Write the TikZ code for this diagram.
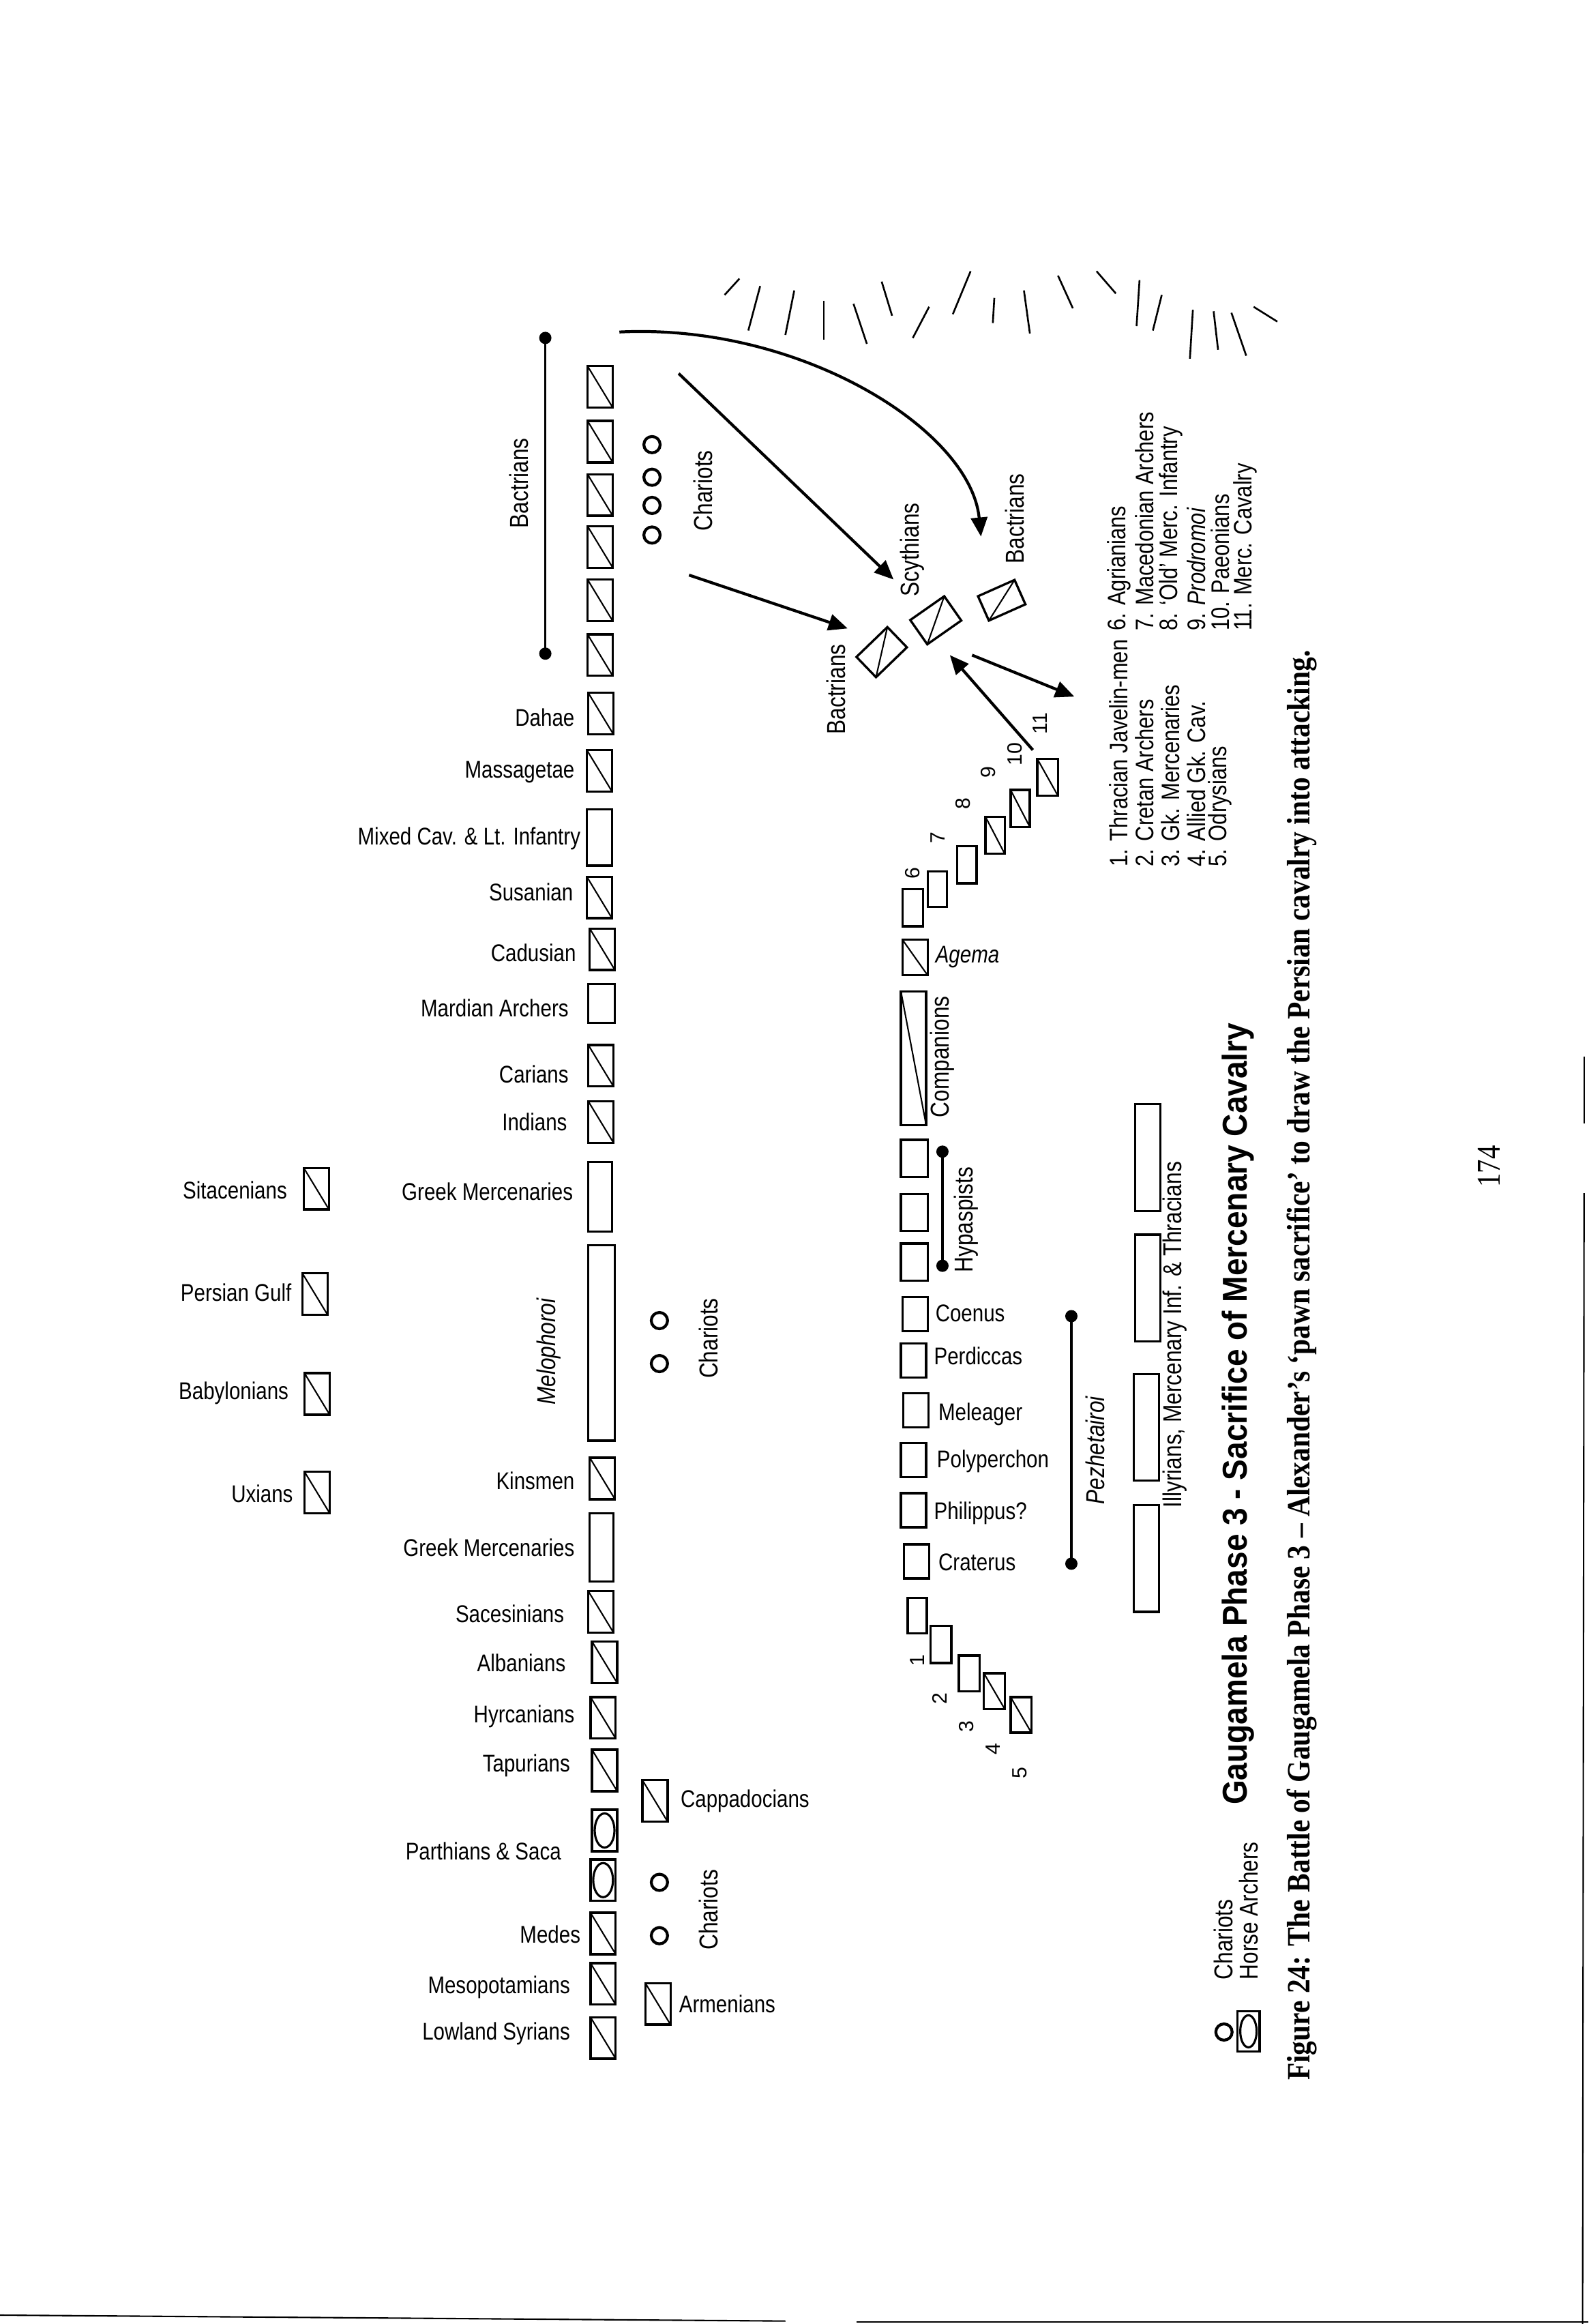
\documentclass[tikz,border=0pt]{standalone}
\usepackage{fontspec}
\setmainfont{Liberation Sans}
\newfontfamily\capfont{Liberation Serif}
\usepackage{graphicx}
\usetikzlibrary{arrows.meta}
\def\PXU{0.21735mm}
\newcommand\stt[1]{\scalebox{1}[1.2]{#1}}
\begin{document}
\begin{tikzpicture}[x=0.21735mm, y=-0.21735mm,
  unit/.style={draw, line width=0.95pt, inner sep=0pt, outer sep=0pt, minimum width=17*\PXU, minimum height=28*\PXU},
  diagl/.style={line width=0.6pt},
  lab/.style={font=\fontsize{8.4}{9}\selectfont, inner sep=0pt},
  rlab/.style={font=\fontsize{9}{10}\selectfont, rotate=90, inner sep=0pt},
  num/.style={font=\fontsize{8.6}{9}\selectfont, rotate=90, inner sep=0pt},
  leg/.style={font=\fontsize{8.8}{10}\selectfont, rotate=90, inner sep=0pt, anchor=west},
  chariot/.style={draw, circle, line width=1.2pt, minimum size=11*\PXU, inner sep=0pt},
  dot/.style={circle, fill, minimum size=1.8mm, inner sep=0pt},
  bracket/.style={line width=0.9pt},
  arr/.style={line width=1.2pt, -{Triangle[length=2.8mm,width=2.4mm]}},
  ray/.style={line width=0.75pt},
]
\fill[white] (0,0) rectangle (1072,1568);
\useasboundingbox (0,0) rectangle (1072,1568);

% ---------- sun rays ----------
\foreach \ax/\ay/\bx/\by in {489/199/499/188, 505/223/513/193, 530/226/536/196, 556/229/556/203,
  576/205/585/232, 595/190/602/213, 616/228/627/207, 643/212/655/183, 670/218/671/201,
  691/196/695/225, 714/186/724/208, 740/183/753/198, 767/220/769/189, 778/223/784/199,
  803/242/805/209, 819/210/822/236, 831/211/841/240, 846/207/862/217}
  \draw[ray] (\ax,\ay) -- (\bx,\by);

% ---------- Persian main line ----------
\node[dot] (bt) at (368,228) {};
\node[dot] (bb) at (368,441) {};
\draw[bracket] (bt.center) -- (bb.center);
\node[rlab] (lbact) at (350,326) {\stt{Bactrians}};

\foreach \n/\y in {b1/261, b2/298, b3/334, b4/369, b5/405, b6/442}
  \node[unit] (\n) at (405,\y) {};

\node[unit] (dahae) at (405.5,481.5) {};
\node[unit] (mass) at (404.5,520) {};
\node[unit, minimum height=38*\PXU] (mixed) at (404.5,565) {};
\node[unit] (susa) at (404.5,605.5) {};
\node[unit] (cadu) at (406.5,640.5) {};
\node[unit, minimum width=18*\PXU, minimum height=26*\PXU] (mard) at (406,677) {};
\node[unit] (cari) at (405.5,719) {};
\node[unit] (indi) at (405.5,757) {};
\node[unit, minimum width=16*\PXU, minimum height=47*\PXU] (gm1) at (405,807.5) {};
\node[unit, minimum width=18*\PXU, minimum height=132*\PXU] (melo) at (406,906) {};
\node[unit] (kins) at (406.5,997.5) {};
\node[unit, minimum width=16*\PXU, minimum height=46*\PXU] (gm2) at (406,1044) {};
\node[unit] (sace) at (405.5,1087.5) {};
\node[unit] (alba) at (408,1121.5) {};
\node[unit] (hyrc) at (407,1159) {};
\node[unit] (tapu) at (408,1194.5) {};
\node[unit] (parA) at (408,1235) {};
\node[unit] (parB) at (407,1268.5) {};
\node[unit] (mede) at (407,1304.5) {};
\node[unit] (meso) at (407,1338.5) {};
\node[unit] (lows) at (407,1375) {};
\node[unit] (capp) at (442,1215) {};
\node[unit] (arme) at (444,1352) {};
\node[unit] (sita) at (213.5,802) {};
\node[unit] (pgul) at (212.5,873) {};
\node[unit] (baby) at (214,940.5) {};
\node[unit] (uxia) at (214,1007) {};

\foreach \n in {b1,b2,b3,b4,b5,b6,dahae,mass,susa,cadu,cari,indi,kins,sace,alba,hyrc,tapu,mede,meso,lows,capp,arme,sita,pgul,baby,uxia}
  \draw[diagl] (\n.north west) -- (\n.south east);

\foreach \n in {parA,parB}
  \draw[line width=0.9pt] (\n.center) ellipse [x radius=1.45mm, y radius=2.5mm];

\node[lab, anchor=east] (tdahae) at (388,484) {\stt{Dahae}};
\node[lab, anchor=east] (tmass) at (388,521) {\stt{Massagetae}};
\node[lab, anchor=east] (tmixed) at (392,566) {\stt{Mixed Cav. \& Lt. Infantry}};
\node[lab, anchor=east] (tsusa) at (387,602) {\stt{Susanian}};
\node[lab, anchor=east] (tcadu) at (389,643) {\stt{Cadusian}};
\node[lab, anchor=east] (tmard) at (384,680) {\stt{Mardian Archers}};
\node[lab, anchor=east] (tcari) at (384,725) {\stt{Carians}};
\node[lab, anchor=east] (tindi) at (383,757) {\stt{Indians}};
\node[lab, anchor=east] (tgm1) at (387,804) {\stt{Greek Mercenaries}};
\node[rlab, font=\itshape\fontsize{9}{10}\selectfont] (tmelo) at (370.5,912) {\stt{Melophoroi}};
\node[lab, anchor=east] (tkins) at (388,999) {\stt{Kinsmen}};
\node[lab, anchor=east] (tgm2) at (388,1044) {\stt{Greek Mercenaries}};
\node[lab, anchor=east] (tsace) at (381,1089) {\stt{Sacesinians}};
\node[lab, anchor=east] (talba) at (382,1122) {\stt{Albanians}};
\node[lab, anchor=east] (thyrc) at (388,1158) {\stt{Hyrcanians}};
\node[lab, anchor=east] (ttapu) at (385,1191) {\stt{Tapurians}};
\node[lab, anchor=east] (tpar) at (379,1249) {\stt{Parthians \& Saca}};
\node[lab, anchor=east] (tmede) at (392,1305) {\stt{Medes}};
\node[lab, anchor=east] (tmeso) at (385,1341) {\stt{Mesopotamians}};
\node[lab, anchor=east] (tlows) at (385,1372) {\stt{Lowland Syrians}};
\node[lab, anchor=west] (tcapp) at (459,1215) {\stt{Cappadocians}};
\node[lab, anchor=west] (tarme) at (458,1352) {\stt{Armenians}};
\node[lab, anchor=east] (tsita) at (194,803) {\stt{Sitacenians}};
\node[lab, anchor=east] (tpgul) at (197,872) {\stt{Persian Gulf}};
\node[lab, anchor=east] (tbaby) at (195,940) {\stt{Babylonians}};
\node[lab, anchor=east] (tuxia) at (198,1008) {\stt{Uxians}};

% chariots
\foreach \n/\x/\y in {ch1/440/300, ch2/440/322, ch3/440/341, ch4/440/361, ch5/445/891, ch6/445/920, ch7/445/1270, ch8/445/1306}
  \node[chariot] (\n) at (\x,\y) {};
\node[rlab] (tch1) at (474.5,331) {\stt{Chariots}};
\node[rlab] (tch2) at (478,903) {\stt{Chariots}};
\node[rlab] (tch3) at (478,1288.5) {\stt{Chariots}};

% ---------- advanced Persian cavalry (diamonds) ----------
\node[unit, rotate=-46, minimum width=19*\PXU, minimum height=29*\PXU] (dl) at (595,440) {};
\node[unit, rotate=-55, minimum width=20*\PXU, minimum height=28*\PXU] (dm) at (631.5,418.5) {};
\node[unit, rotate=-66, minimum width=18*\PXU, minimum height=27*\PXU] (dr) at (676,405) {};
\foreach \n in {dl,dm,dr}
  \draw[diagl] (\n.north west) -- (\n.south east);
\node[rlab] (tdl) at (564,465) {\stt{Bactrians}};
\node[rlab] (tdm) at (615.5,371) {\stt{Scythians}};
\node[rlab] (tdr) at (685,350) {\stt{Bactrians}};

% arrows
\coordinate (cvS) at (418,224);
\coordinate (cvE) at (662,362);
\draw[arr] (cvS) .. controls (540,218) and (655,290) .. (cvE);
\coordinate (a1s) at (458,252); \coordinate (a1e) at (603,391);
\coordinate (a2s) at (465,388); \coordinate (a2e) at (572,424);
\coordinate (a3s) at (697,506); \coordinate (a3e) at (641,442);
\coordinate (a4s) at (656,442); \coordinate (a4e) at (725,470);
\draw[arr] (a1s) -- (a1e);
\draw[arr] (a2s) -- (a2e);
\draw[arr] (a3s) -- (a3e);
\draw[arr] (a4s) -- (a4e);

% ---------- Macedonian line ----------
\node[unit, minimum width=14*\PXU, minimum height=25*\PXU] (m6) at (616,612.5) {};
\node[unit, minimum width=13*\PXU, minimum height=24*\PXU] (m7) at (632.5,600) {};
\node[unit, minimum width=13*\PXU, minimum height=25*\PXU] (m8) at (652.5,583.5) {};
\node[unit, minimum width=13*\PXU, minimum height=25*\PXU] (m9) at (671.5,563.5) {};
\node[unit, minimum width=13*\PXU, minimum height=25*\PXU] (m10) at (688.5,545.5) {};
\node[unit, minimum width=14*\PXU, minimum height=25*\PXU] (m11) at (707,524.5) {};
\node[unit, minimum height=24*\PXU] (agema) at (617.5,646) {};
\node[unit, minimum height=90*\PXU] (comp) at (616.5,714) {};
\node[unit, minimum width=18*\PXU, minimum height=25*\PXU] (hy1) at (617,781.5) {};
\node[unit, minimum width=18*\PXU, minimum height=25*\PXU] (hy2) at (617,818) {};
\node[unit, minimum width=18*\PXU, minimum height=25*\PXU] (hy3) at (617,851.5) {};
\node[unit, minimum height=23*\PXU] (coen) at (617.5,886.5) {};
\node[unit, minimum height=23*\PXU] (perd) at (616.5,918) {};
\node[unit, minimum height=23*\PXU] (mele) at (618,951.5) {};
\node[unit, minimum height=23*\PXU] (poly) at (616.5,985) {};
\node[unit, minimum height=23*\PXU] (phil) at (616.5,1019) {};
\node[unit, minimum height=23*\PXU] (crat) at (618.5,1053.5) {};
\node[unit, minimum width=13*\PXU, minimum height=24*\PXU] (u1) at (619,1090) {};
\node[unit, minimum width=14*\PXU, minimum height=25*\PXU] (u2) at (635,1109.5) {};
\node[unit, minimum width=14*\PXU, minimum height=24*\PXU] (u3) at (654,1129) {};
\node[unit, minimum width=14*\PXU, minimum height=24*\PXU] (u4) at (671,1141) {};
\node[unit, minimum width=14*\PXU, minimum height=24*\PXU] (u5) at (689,1157) {};
\foreach \n in {m9,m10,m11,agema,comp,u4,u5}
  \draw[diagl] (\n.north west) -- (\n.south east);

\node[num] (n1) at (619,1120) {1};
\node[num] (n2) at (634,1146) {2};
\node[num] (n3) at (652,1165) {3};
\node[num] (n4) at (670,1180) {4};
\node[num] (n5) at (688,1196) {5};
\node[num] (n6) at (616,589) {6};
\node[num] (n7) at (633,565) {7};
\node[num] (n8) at (650,542) {8};
\node[num] (n9) at (667,521) {9};
\node[num] (n10) at (685,509) {10};
\node[num] (n11) at (702,488) {11};

\node[lab, anchor=west, font=\itshape\fontsize{8.4}{9}\selectfont] (tagema) at (631,645.5) {\stt{Agema}};
\node[rlab] (tcomp) at (636,713) {\stt{Companions}};
\node[dot] (ht) at (636,777) {};
\node[dot] (hb) at (636,854) {};
\draw[bracket] (ht.center) -- (hb.center);
\node[rlab] (thyp) at (652,823) {\stt{Hypaspists}};
\node[lab, anchor=west] (tcoen) at (631,886) {\stt{Coenus}};
\node[lab, anchor=west] (tperd) at (630,915) {\stt{Perdiccas}};
\node[lab, anchor=west] (tmele) at (633,954) {\stt{Meleager}};
\node[lab, anchor=west] (tpoly) at (632,986) {\stt{Polyperchon}};
\node[lab, anchor=west] (tphil) at (630,1021) {\stt{Philippus?}};
\node[lab, anchor=west] (tcrat) at (633,1054) {\stt{Craterus}};
\node[dot] (pt) at (723,888) {};
\node[dot] (pb) at (723,1055) {};
\draw[bracket] (pt.center) -- (pb.center);
\node[rlab, font=\itshape\fontsize{9}{10}\selectfont] (tpez) at (739,978.5) {\stt{Pezhetairoi}};

% second line
\node[unit, minimum height=72*\PXU] (il1) at (774.5,781) {};
\node[unit, minimum height=72*\PXU] (il2) at (774.5,869) {};
\node[unit, minimum height=72*\PXU] (il3) at (773.5,963) {};
\node[unit, minimum height=72*\PXU] (il4) at (773.5,1051.5) {};
\node[rlab] (till) at (793,900.5) {\stt{Illyrians, Mercenary Inf. \& Thracians}};

% ---------- legend ----------
\node[leg] (l1) at (755,585) {\stt{1. Thracian Javelin-men}};
\node[leg] (l6) at (755,426) {\stt{6. Agrianians}};
\node[leg] (l2) at (772.5,585) {\stt{2. Cretan Archers}};
\node[leg] (l7) at (772.5,426) {\stt{7. Macedonian Archers}};
\node[leg] (l3) at (790,585) {\stt{3. Gk. Mercenaries}};
\node[leg] (l8) at (790,426) {\stt{8. ‘Old’ Merc. Infantry}};
\node[leg] (l4) at (807.5,585) {\stt{4. Allied Gk. Cav.}};
\node[leg] (l9) at (807.5,426) {\stt{9. \textit{Prodromoi}}};
\node[leg] (l5) at (823.5,585) {\stt{5. Odrysians}};
\node[leg] (l10) at (823.5,426) {\stt{10. Paeonians}};
\node[leg] (l11) at (840.5,426) {\stt{11. Merc. Cavalry}};

\node[chariot] (kch) at (826,1371) {};
\node[unit, minimum width=15*\PXU, minimum height=27*\PXU] (kha) at (842.5,1370.5) {};
\draw[line width=0.9pt] (kha.center) ellipse [x radius=1.2mm, y radius=2.35mm];
\node[leg, font=\fontsize{9}{10}\selectfont] (tkch) at (825.5,1336) {\stt{Chariots}};
\node[leg, font=\fontsize{9}{10}\selectfont] (tkha) at (842.5,1336) {\stt{Horse Archers}};

\node[rotate=90, anchor=west, inner sep=0pt, font=\bfseries\fontsize{13.1}{15}\selectfont] (title) at (835.5,1218) {\scalebox{1}[1.1]{Gaugamela Phase 3 - Sacrifice of Mercenary Cavalry}};
\node[rotate=90, anchor=west, inner sep=0pt, font=\capfont\bfseries\fontsize{11.8}{13}\selectfont] (caption) at (878.5,1404) {\scalebox{1}[1.15]{Figure 24: The Battle of Gaugamela Phase 3 – Alexander’s ‘pawn sacrifice’ to draw the Persian cavalry into attacking.}};
\node[rotate=90, inner sep=0pt, font=\capfont\fontsize{11.6}{13}\selectfont] (page) at (1005,787) {\scalebox{1}[1.2]{174}};

% page edges
\draw[line width=0.6pt] (1069,713) -- (1069,758);
\draw[line width=0.6pt] (1069,805) -- (1068,1568);
\draw[line width=0.6pt] (0,1562) -- (530,1566);
\draw[line width=0.6pt] (578,1566.5) -- (1072,1566.5);
\end{tikzpicture}
\end{document}
